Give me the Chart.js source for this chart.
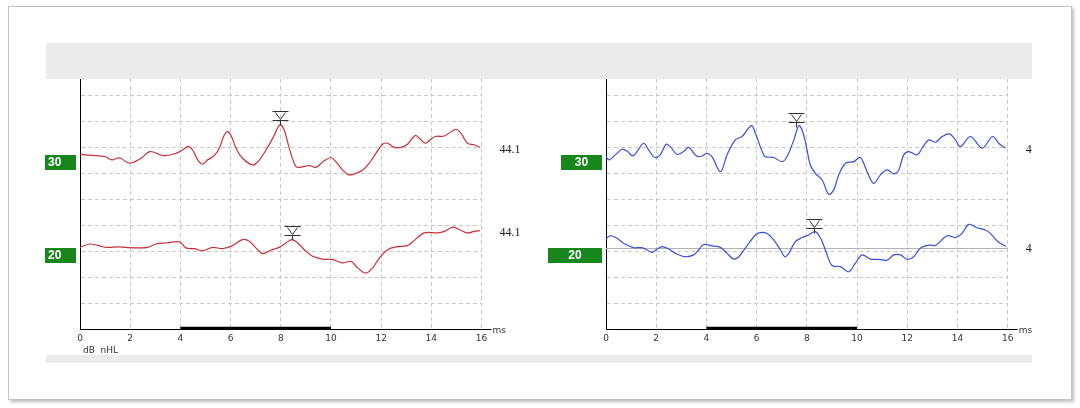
<!doctype html>
<html lang="en">
<head>
<meta charset="utf-8">
<title>ABR</title>
<script src="https://cdn.jsdelivr.net/npm/chart.js@4.4.0/dist/chart.umd.min.js"></script>
<style>
  body { margin:0; background:#fff; width:1080px; height:408px; position:relative; overflow:hidden; }
  #frame { position:absolute; left:8px; top:6px; width:1062px; height:392px; border:1px solid #c3c3c3; box-shadow:2px 2px 3px rgba(0,0,0,0.25); }
  .band { position:absolute; left:46px; width:986px; background:#ebebeb; }
  canvas { position:absolute; }
</style>
</head>
<body>
<div id="frame"></div>
<div class="band" style="top:43px;height:36px"></div>
<canvas id="leftChart" width="490" height="280" style="left:40px;top:79px"></canvas>
<canvas id="rightChart" width="502" height="280" style="left:530px;top:79px"></canvas>
<div class="band" style="top:355px;height:8px"></div>

<script>
// level labels and where each trace row sits (grid units)
var levels = ['30', '20'];
var levelBase = [6.72, 3.14];
var sideValue = '44.1';
var xTicks = [0, 2, 4, 6, 8, 10, 12, 14, 16];
var stimBar = [4, 10];

// left ear traces (ms / grid units)
var lt30Time = [0, 0.64, 1.04, 1.27, 1.5, 1.63, 1.97, 2.43, 2.79, 3.32, 3.82, 4.09, 4.32, 4.49, 4.69, 4.89, 5.09, 5.35, 5.55, 5.75, 5.88, 6.02, 6.22, 6.48, 6.88, 7.12, 7.41, 7.68, 7.97, 8.14, 8.34, 8.61, 8.87, 9.14, 9.4, 9.73, 10.0, 10.2, 10.46, 10.7, 11.0, 11.26, 11.53, 11.79, 12.06, 12.26, 12.52, 12.79, 13.05, 13.36, 13.52, 13.76, 13.92, 14.16, 14.52, 14.98, 15.18, 15.44, 15.71, 15.94];
var lt30Amp = [6.74, 6.69, 6.64, 6.53, 6.6, 6.59, 6.4, 6.59, 6.85, 6.69, 6.78, 6.91, 7.05, 6.91, 6.53, 6.36, 6.53, 6.69, 6.98, 7.49, 7.62, 7.47, 6.98, 6.59, 6.33, 6.49, 6.91, 7.36, 7.88, 7.68, 6.98, 6.27, 6.26, 6.31, 6.24, 6.49, 6.62, 6.46, 6.14, 5.95, 6.01, 6.13, 6.4, 6.78, 7.13, 7.17, 7.01, 7.01, 7.13, 7.47, 7.36, 7.17, 7.27, 7.43, 7.45, 7.71, 7.56, 7.17, 7.11, 7.01];
var lt20Time = [0, 0.37, 0.7, 1.04, 1.57, 1.97, 2.36, 2.7, 3.03, 3.43, 3.96, 4.22, 4.56, 4.89, 5.29, 5.68, 6.08, 6.48, 6.75, 7.01, 7.28, 7.61, 7.94, 8.21, 8.45, 8.74, 9.0, 9.27, 9.67, 10.07, 10.46, 10.8, 11.06, 11.39, 11.66, 11.93, 12.26, 12.59, 13.05, 13.25, 13.72, 14.25, 14.52, 14.85, 15.11, 15.44, 15.71, 15.94];
var lt20Amp = [3.15, 3.28, 3.23, 3.15, 3.17, 3.14, 3.13, 3.15, 3.28, 3.32, 3.36, 3.13, 3.1, 3.02, 3.15, 3.1, 3.22, 3.45, 3.39, 3.13, 2.91, 3.04, 3.15, 3.32, 3.45, 3.26, 3.0, 2.81, 2.7, 2.68, 2.55, 2.61, 2.36, 2.16, 2.36, 2.74, 3.06, 3.17, 3.22, 3.36, 3.71, 3.71, 3.77, 3.93, 3.84, 3.71, 3.77, 3.8];
var leftPeakTime = [7.96, 8.45];
var leftPeakAmp = [7.88, 3.45];

// right ear traces
var rt30Time = [0, 0.13, 0.37, 0.64, 0.84, 1.06, 1.24, 1.5, 1.7, 1.94, 2.16, 2.39, 2.56, 2.83, 3.09, 3.29, 3.56, 3.76, 4.02, 4.22, 4.56, 4.82, 5.15, 5.42, 5.79, 5.95, 6.22, 6.35, 6.68, 7.01, 7.21, 7.48, 7.68, 7.81, 7.97, 8.14, 8.34, 8.61, 8.87, 9.07, 9.27, 9.54, 9.87, 10.13, 10.4, 10.66, 10.93, 11.2, 11.46, 11.66, 11.86, 12.06, 12.39, 12.59, 12.86, 13.12, 13.39, 13.68, 13.92, 14.12, 14.52, 14.98, 15.4, 15.64, 15.91];
var rt30Amp = [6.65, 6.53, 6.72, 6.94, 6.87, 6.68, 6.85, 7.17, 6.91, 6.62, 6.72, 7.13, 7.04, 6.74, 6.85, 7.01, 6.72, 6.65, 6.78, 6.65, 6.07, 6.72, 7.3, 7.43, 7.85, 7.56, 6.85, 6.65, 6.62, 6.46, 6.65, 7.3, 7.85, 7.68, 7.1, 6.33, 6.01, 5.75, 5.2, 5.37, 5.95, 6.4, 6.46, 6.62, 6.07, 5.62, 5.95, 6.14, 5.99, 6.14, 6.72, 6.85, 6.72, 6.98, 7.3, 7.21, 7.43, 7.53, 7.3, 7.04, 7.43, 6.98, 7.43, 7.17, 6.98];
var rt20Time = [0, 0.17, 0.44, 0.7, 1.1, 1.43, 1.63, 1.83, 2.03, 2.23, 2.5, 2.76, 3.16, 3.49, 3.69, 3.89, 4.22, 4.56, 4.82, 5.09, 5.29, 5.55, 5.95, 6.15, 6.41, 6.68, 6.95, 7.12, 7.28, 7.54, 7.81, 8.07, 8.34, 8.58, 8.76, 9.0, 9.34, 9.67, 9.93, 10.2, 10.53, 10.86, 11.2, 11.46, 11.73, 11.99, 12.26, 12.52, 12.92, 13.12, 13.59, 13.92, 14.18, 14.45, 14.78, 15.11, 15.31, 15.58, 15.94];
var rt20Amp = [3.48, 3.6, 3.5, 3.31, 3.14, 3.14, 3.05, 2.96, 3.08, 3.18, 3.09, 2.92, 2.79, 2.86, 3.05, 3.26, 3.21, 3.15, 2.92, 2.7, 2.79, 3.12, 3.63, 3.72, 3.69, 3.44, 3.05, 2.79, 2.92, 3.37, 3.53, 3.63, 3.76, 3.44, 2.99, 2.45, 2.41, 2.21, 2.54, 2.86, 2.7, 2.69, 2.66, 2.86, 2.86, 2.69, 2.79, 3.12, 3.24, 3.22, 3.6, 3.53, 3.69, 4.04, 3.91, 3.82, 3.69, 3.4, 3.18];
var rightPeakTime = [7.56, 8.27];
var rightPeakAmp = [7.8, 3.72];

Chart.defaults.font.family = '"DejaVu Sans", sans-serif';
Chart.defaults.font.size = 9;
Chart.defaults.color = '#333';

function pts(t, a) {
  return t.map(function (v, i) { return { x: v, y: a[i] }; });
}

// everything the ABR display draws on top of the scales
var abrPlugin = {
  id: 'abr',
  beforeDatasetsDraw: function (chart, args, o) {
    if (o.baselineRow == null) return;
    var ctx = chart.ctx, a = chart.chartArea;
    var yb = Math.round(chart.scales.y.getPixelForValue(levelBase[o.baselineRow])) + 0.5;
    ctx.save();
    ctx.strokeStyle = '#b4b4b4';
    ctx.lineWidth = 1;
    ctx.beginPath(); ctx.moveTo(a.left, yb); ctx.lineTo(a.right, yb); ctx.stroke();
    ctx.restore();
  },
  afterDraw: function (chart, args, o) {
    var ctx = chart.ctx, a = chart.chartArea;
    var xs = chart.scales.x, ys = chart.scales.y;
    ctx.save();

    // stimulus bar on the time axis
    ctx.strokeStyle = '#000';
    ctx.lineWidth = 2.5;
    ctx.beginPath();
    ctx.moveTo(xs.getPixelForValue(stimBar[0]), a.bottom - 1);
    ctx.lineTo(xs.getPixelForValue(stimBar[1]), a.bottom - 1);
    ctx.stroke();

    // axis runs a bit past 16, then "ms"
    ctx.lineWidth = 1;
    ctx.beginPath();
    ctx.moveTo(a.right, Math.round(a.bottom) + 0.5);
    ctx.lineTo(a.right + 10, Math.round(a.bottom) + 0.5);
    ctx.stroke();
    ctx.fillStyle = '#333';
    ctx.font = '9px "DejaVu Sans"';
    ctx.textBaseline = 'middle';
    ctx.textAlign = 'left';
    ctx.fillText('ms', a.right + 11, a.bottom + 2);
    if (o.unitLabel) ctx.fillText(o.unitLabel, a.left + 3, a.bottom + 22);

    // level boxes and end values
    for (var i = 0; i < levels.length; i++) {
      var yb = Math.round(ys.getPixelForValue(levelBase[i]));
      var w = o.boxWidth[i];
      var bx = a.left - 4 - w;
      ctx.fillStyle = '#17861d';
      ctx.fillRect(bx, yb, w, 15);
      ctx.fillStyle = '#fff';
      ctx.font = 'bold 12px "Liberation Sans"';
      ctx.textAlign = o.boxAlign;
      ctx.fillText(levels[i], o.boxAlign === 'left' ? bx + 3 : bx + w / 2, yb + 8);

      var ds = chart.data.datasets[i].data;
      var last = ds[ds.length - 1];
      ctx.fillStyle = '#222';
      ctx.font = '12px "Liberation Serif"';
      ctx.textAlign = 'left';
      ctx.fillText(sideValue, a.right + 18, ys.getPixelForValue(last.y) + 2);
    }

    // wave V markers
    ctx.strokeStyle = '#333';
    ctx.lineWidth = 1;
    for (var j = 0; j < o.peakTime.length; j++) {
      var px = Math.round(xs.getPixelForValue(o.peakTime[j])) + 0.5;
      var py = Math.round(ys.getPixelForValue(o.peakAmp[j])) + 0.5;
      ctx.beginPath();
      ctx.moveTo(px, py); ctx.lineTo(px, py - 5);
      ctx.moveTo(px - 8, py - 5); ctx.lineTo(px + 8, py - 5);
      ctx.moveTo(px - 8, py - 14); ctx.lineTo(px + 8, py - 14);
      ctx.moveTo(px - 5, py - 13); ctx.lineTo(px, py - 6); ctx.lineTo(px + 5, py - 13);
      ctx.stroke();
    }
    ctx.restore();
  }
};

function makeChart(id, traces, color, pad, opts) {
  var ctx = document.getElementById(id).getContext('2d');
  return new Chart(ctx, {
    type: 'line',
    data: {
      datasets: traces.map(function (tr) {
        return {
          data: pts(tr[0], tr[1]),
          borderColor: color,
          borderWidth: 1.2,
          pointRadius: 0,
          tension: 0.35
        };
      })
    },
    options: {
      responsive: false,
      animation: false,
      devicePixelRatio: 1,
      layout: { padding: pad },
      plugins: { legend: { display: false }, tooltip: { enabled: false }, abr: opts },
      scales: {
        x: {
          type: 'linear', min: 0, max: 16,
          afterBuildTicks: function (s) { s.ticks = xTicks.map(function (v) { return { value: v }; }); },
          afterFit: function (s) { s.height = 30; },
          ticks: { padding: 4, maxRotation: 0, autoSkip: false, color: '#333' },
          grid: {
            drawTicks: false,
            color: function (c) { return c.tick && c.tick.value !== 0 ? '#c8c8c8' : 'rgba(0,0,0,0)'; }
          },
          border: { display: true, color: '#000', width: 1, dash: [4, 3] }
        },
        y: {
          type: 'linear', min: 0, max: 9.65,
          ticks: { display: false, stepSize: 1 },
          afterFit: function (s) { s.width = 0; },
          grid: {
            drawTicks: false,
            color: function (c) {
              var v = c.tick ? c.tick.value : 0;
              return v !== 0 && Number.isInteger(v) ? '#c8c8c8' : 'rgba(0,0,0,0)';
            }
          },
          border: { display: true, color: '#000', width: 1, dash: [4, 3] }
        }
      }
    },
    plugins: [abrPlugin]
  });
}

makeChart('leftChart', [[lt30Time, lt30Amp], [lt20Time, lt20Amp]], '#c8313a',
  { left: 40, right: 48.5, top: 0, bottom: 0 },
  { boxWidth: [31, 31], boxAlign: 'left', peakTime: leftPeakTime, peakAmp: leftPeakAmp, unitLabel: 'dB  nHL', baselineRow: null });

makeChart('rightChart', [[rt30Time, rt30Amp], [rt20Time, rt20Amp]], '#3a4fdc',
  { left: 76, right: 24.3, top: 0, bottom: 0 },
  { boxWidth: [41, 54], boxAlign: 'center', peakTime: rightPeakTime, peakAmp: rightPeakAmp, unitLabel: null, baselineRow: 1 });
</script>
</body>
</html>
